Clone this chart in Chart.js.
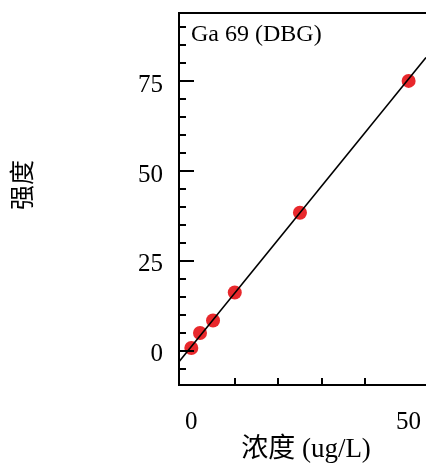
<!DOCTYPE html>
<html><head><meta charset="utf-8">
<script src="https://cdn.jsdelivr.net/npm/chart.js@4.4.0/dist/chart.umd.min.js"></script>
<style>html,body{margin:0;padding:0;background:#fff;overflow:hidden}</style>
</head><body>
<canvas id="c" width="426" height="467"></canvas>
<script>
// ---- data ----
const concentrations = [0, 2, 5, 10, 25, 50];
const intensities = [0.75, 4.9, 8.4, 16.2, 38.4, 75.1];
const fitX = [-2.83, 54.0];
const fitY = [-3.1, 81.6];
const xRange = [-2.83, 54.0];
const yRange = [-9.56, 94.0];
const xLabelTicks = [0, 50];
const yLabelTicks = [0, 25, 50, 75];
const chartTitle = 'Ga 69 (DBG)';
const xTitle = '浓度 (ug/L)';
const yTitle = '强度';

const SERIF = "'Liberation Serif', 'Times New Roman', serif";
const CJK = "'Liberation Serif', 'Noto Sans CJK SC', serif";

const axisDecor = {
  id: 'axisDecor',
  afterDraw(chart) {
    const ctx = chart.ctx;
    const a = chart.chartArea;
    const xs = chart.scales.x, ys = chart.scales.y;
    ctx.save();
    ctx.strokeStyle = '#000';
    ctx.lineWidth = 2;
    ctx.beginPath();
    xs.ticks.forEach(t => {
      const v = t.value;
      if (Math.abs(v - Math.round(v / 10) * 10) > 1e-6) return;
      const px = Math.round(xs.getPixelForValue(v));
      const len = (Math.abs(v % 50) < 1e-6) ? 15 : 7;
      ctx.moveTo(px, a.bottom);
      ctx.lineTo(px, a.bottom - len);
    });
    ys.ticks.forEach(t => {
      const v = t.value;
      if (Math.abs(v - Math.round(v / 5) * 5) > 1e-6) return;
      const py = Math.round(ys.getPixelForValue(v));
      const len = (Math.abs(v % 25) < 1e-6) ? 15 : 7;
      ctx.moveTo(a.left, py);
      ctx.lineTo(a.left + len, py);
    });
    ctx.stroke();

    // tick labels
    ctx.fillStyle = '#000';
    ctx.font = '25px ' + SERIF;
    ctx.textBaseline = 'middle';
    ctx.textAlign = 'center';
    xLabelTicks.forEach(v => {
      ctx.fillText(String(v), xs.getPixelForValue(v), a.bottom + 37);
    });
    ctx.textAlign = 'right';
    yLabelTicks.forEach(v => {
      ctx.fillText(String(v), a.left - 16, ys.getPixelForValue(v) + 4);
    });

    // in-plot title
    ctx.font = '24px ' + SERIF;
    ctx.textAlign = 'left';
    ctx.textBaseline = 'alphabetic';
    ctx.fillText(chartTitle, a.left + 12, a.top + 28);

    // x-axis title
    ctx.font = '27px ' + CJK;
    ctx.textAlign = 'center';
    ctx.textBaseline = 'middle';
    ctx.fillText(xTitle, 306, 450);

    // y-axis title
    ctx.translate(24, 185);
    ctx.rotate(-Math.PI / 2);
    ctx.font = '25px ' + CJK;
    ctx.fillText(yTitle, 0, 0);
    ctx.restore();
  }
};

new Chart(document.getElementById('c'), {
  type: 'scatter',
  data: {
    datasets: [
      {
        label: 'points',
        data: concentrations.map((x, i) => ({x, y: intensities[i]})),
        backgroundColor: '#e8282c',
        borderWidth: 0,
        pointRadius: 7,
        pointHoverRadius: 7,
        order: 2
      },
      {
        label: 'fit',
        data: fitX.map((x, i) => ({x, y: fitY[i]})),
        showLine: true,
        borderColor: '#000',
        borderWidth: 1.6,
        pointRadius: 0,
        fill: false,
        order: 1
      }
    ]
  },
  options: {
    responsive: false,
    animation: false,
    events: [],
    layout: {autoPadding: false, padding: {top: 13, left: 0, right: 0, bottom: 0}},
    plugins: {legend: {display: false}, tooltip: {enabled: false}, title: {display: false}},
    scales: {
      x: {
        type: 'linear', position: 'bottom',
        min: xRange[0], max: xRange[1],
        grid: {display: false, drawTicks: false},
        border: {display: true, color: '#000', width: 2},
        afterFit: s => { s.height = 82; },
        ticks: {display: false, stepSize: 10, autoSkip: false}
      },
      x2: {
        type: 'linear', position: 'top',
        min: xRange[0], max: xRange[1],
        grid: {display: false, drawTicks: false},
        border: {display: true, color: '#000', width: 2},
        ticks: {display: false},
        afterFit: s => { s.height = 0; }
      },
      y: {
        type: 'linear', position: 'left',
        min: yRange[0], max: yRange[1],
        grid: {display: false, drawTicks: false},
        border: {display: true, color: '#000', width: 2},
        afterFit: s => { s.width = 179; },
        ticks: {display: false, stepSize: 5, autoSkip: false}
      }
    }
  },
  plugins: [axisDecor]
});
</script>
</body></html>
